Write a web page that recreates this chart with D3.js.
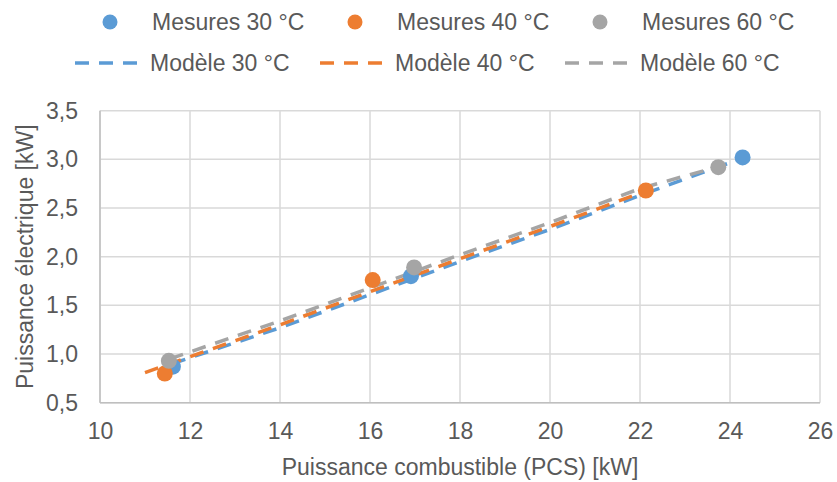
<!DOCTYPE html>
<html><head><meta charset="utf-8">
<script src="https://cdn.jsdelivr.net/npm/d3@7"></script>
<style>
html,body{margin:0;padding:0;background:#fff;}
text{font-family:"Liberation Sans",Arial,sans-serif;fill:#595959;}
</style></head>
<body><svg id="chart" width="837" height="482"></svg>
<script>
// ---- data ----
const seriesNames = ["30 °C", "40 °C", "60 °C"];
const colors = ["#5B9BD5", "#ED7D31", "#A5A5A5"];
const mesures30 = [[11.62, 0.87], [16.91, 1.80], [24.28, 3.02]];
const mesures40 = [[11.44, 0.80], [16.06, 1.76], [22.13, 2.68]];
const mesures60 = [[11.53, 0.93], [16.98, 1.89], [23.74, 2.92]];
const modele30 = [[11.6, 0.90], [14, 1.27], [18, 1.95], [20, 2.28], [22, 2.63], [24.2, 3.00]];
const modele40 = [[11.0, 0.81], [14, 1.30], [18, 1.98], [20, 2.31], [22.1, 2.67]];
const modele60 = [[11.55, 0.95], [14, 1.34], [18, 2.02], [20, 2.35], [22, 2.70], [23.7, 2.92]];
const xTicks = [10, 12, 14, 16, 18, 20, 22, 24, 26];
const yTicks = [0.5, 1.0, 1.5, 2.0, 2.5, 3.0, 3.5];
const xLabel = "Puissance combustible (PCS) [kW]";
const yLabel = "Puissance électrique [kW]";

const mesures = [mesures30, mesures40, mesures60];
const modeles = [modele30, modele40, modele60];

// ---- layout ----
const svg = d3.select("#chart");
const pL = 100, pR = 820, pT = 110.7, pB = 402.7;
const x = d3.scaleLinear().domain([10, 26]).range([pL, pR]);
const y = d3.scaleLinear().domain([0.5, 3.5]).range([pB, pT]);
const fmt = d => d3.format(".1f")(d).replace(".", ",");

// gridlines
svg.append("g").selectAll("line").data(xTicks).join("line")
  .attr("x1", d => x(d)).attr("x2", d => x(d)).attr("y1", pT).attr("y2", pB)
  .attr("stroke", "#D9D9D9").attr("stroke-width", 1.5);
svg.append("g").selectAll("line").data(yTicks).join("line")
  .attr("y1", d => y(d)).attr("y2", d => y(d)).attr("x1", pL).attr("x2", pR)
  .attr("stroke", "#D9D9D9").attr("stroke-width", 1.5);

// axis lines
svg.append("line").attr("x1", pL).attr("x2", pR).attr("y1", pB).attr("y2", pB)
  .attr("stroke", "#BFBFBF").attr("stroke-width", 1.5);
svg.append("line").attr("x1", pL).attr("x2", pL).attr("y1", pT).attr("y2", pB)
  .attr("stroke", "#BFBFBF").attr("stroke-width", 1.5);

// axis tick labels via d3 axes
const xAxis = svg.append("g").attr("transform", `translate(0,${pB})`)
  .call(d3.axisBottom(x).tickValues(xTicks).tickSize(0).tickPadding(20).tickFormat(d3.format("d")));
const yAxis = svg.append("g").attr("transform", `translate(${pL},0)`)
  .call(d3.axisLeft(y).tickValues(yTicks).tickSize(0).tickPadding(22).tickFormat(fmt));
[xAxis, yAxis].forEach(a => {
  a.select(".domain").remove();
  a.selectAll("text").attr("font-size", 23).attr("fill", "#595959")
    .attr("font-family", '"Liberation Sans", Arial, sans-serif');
});

// axis titles
svg.append("text").attr("x", (pL + pR) / 2).attr("y", 475).attr("text-anchor", "middle")
  .attr("font-size", 23).text(xLabel);
svg.append("text").attr("transform", `translate(33,${(pT + pB) / 2}) rotate(-90)`)
  .attr("text-anchor", "middle").attr("font-size", 23).text(yLabel);

// model lines
const line = d3.line().x(d => x(d[0])).y(d => y(d[1]));
modeles.forEach((m, i) => {
  svg.append("path").datum(m).attr("d", line).attr("fill", "none")
    .attr("stroke", colors[i]).attr("stroke-width", 3.5).attr("stroke-dasharray", "14,10");
});
// measurement markers
mesures.forEach((m, i) => {
  svg.append("g").selectAll("circle").data(m).join("circle")
    .attr("cx", d => x(d[0])).attr("cy", d => y(d[1])).attr("r", 8).attr("fill", colors[i]);
});

// legend
const colX = [75, 320, 565];
seriesNames.forEach((n, i) => {
  const g = svg.append("g").attr("transform", `translate(${colX[i]},0)`);
  g.append("circle").attr("cx", 35).attr("cy", 22).attr("r", 7.5).attr("fill", colors[i]);
  g.append("text").attr("x", 77).attr("y", 30).attr("font-size", 23).text("Mesures " + n);
  g.append("line").attr("x1", 0).attr("x2", 72).attr("y1", 63).attr("y2", 63)
    .attr("stroke", colors[i]).attr("stroke-width", 3.5).attr("stroke-dasharray", "14,10");
  g.append("text").attr("x", 75).attr("y", 71).attr("font-size", 23).text("Modèle " + n);
});
</script></body></html>
